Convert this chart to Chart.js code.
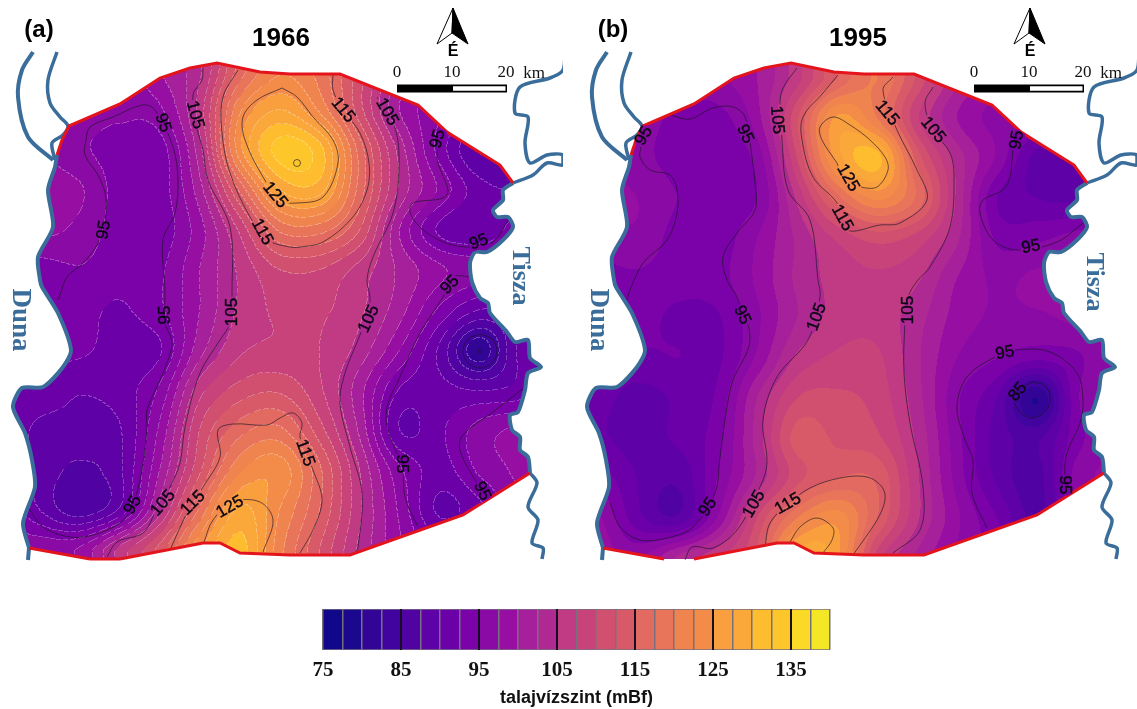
<!DOCTYPE html>
<html lang="en">
<head>
    <meta charset="UTF-8">
    <title>talajvízszint 1966 / 1995</title>
    <script src="https://cdn.jsdelivr.net/npm/chart.js"></script>
    <style>
        body { margin: 0; background: #fff; overflow: hidden; }
        canvas { position: absolute; }
    </style>
</head>
<body>
    <canvas id="mapA" width="563" height="570" style="left:0;top:0"></canvas>
    <canvas id="mapB" width="563" height="570" style="left:574px;top:0"></canvas>
    <canvas id="bar" width="560" height="119" style="left:300px;top:590px"></canvas>

    <script>
        // colour bar
        const bandEdges = [75,77.5,80,82.5,85,87.5,90,92.5,95,97.5,100,102.5,105,107.5,110,112.5,115,117.5,120,122.5,125,127.5,130,132.5,135,137.5,140];
        const bandColors = ['#10078a','#1c088e','#330597','#42049e','#5002a2','#5e01a6','#6c00a8','#7a02a8','#8a0aa6','#960fa2','#a5209a','#ae2a92','#c03b84','#c84379','#d1506f','#d85a69','#e36a60','#e8755a','#f0844e','#f48c49','#f99f3d','#fba83a','#fdbd2e','#fdc72b','#fbd927','#f4e826'];
        const barTitle = 'talajvízszint (mBf)';

        // map units, 110 units = 20 km. Both panels share the same outline
        const redTop = [[57,155],[62,140],[69,126],[120,104],[160,78],[190,68],[217,63],[260,72],[290,74],[340,74],[418,105],[447,132],[500,165],[513,183]];
        const tiszaBank = [[513,183],[503,190],[503,200],[493,210],[497,217],[508,217],[513,227],[503,240],[487,252],[475,252],[470,263],[472,282],[480,298],[488,303],[490,313],[507,332],[515,342],[528,340],[530,358],[541,367],[528,373],[525,390],[518,412],[510,415],[512,430],[520,437],[520,450],[528,457],[530,473]];
        const redBottomEast = [[530,473],[463,515],[350,555],[290,555],[240,553],[220,543],[203,543],[120,559]];
        const redBottomMid = [[120,559],[90,559]];
        const redBottomWest = [[90,559],[29,548]];
        const dunaBank = [[29,548],[23,523],[35,487],[32,460],[25,433],[13,407],[22,388],[43,387],[63,367],[71,350],[58,313],[42,287],[40,280],[38,257],[53,227],[48,190],[55,167],[57,155]];
        const dunaEnd = [[29,548],[28,560]];
        const dunaArm1 = [[33,52],[22,70],[18,97],[28,137],[53,160]];
        const dunaArm2 = [[57,52],[48,80],[50,103],[60,117],[68,126],[63,135],[52,143],[55,160]];
        const tiszaUpper = [[513,183],[533,175],[547,163],[563,165],[563,155],[547,155],[530,163],[525,143],[528,117],[515,113],[520,87],[550,78],[563,70],[565,52]];
        const tiszaLower = [[530,473],[537,483],[528,507],[538,520],[532,543],[543,548],[542,559]];

        const arrowBlack = [[453,8],[468,44],[452,33]];
        const arrowWhite = [[453,8],[437,44],[452,33]];

        // water level, rows top to bottom
        const gridXA = [0,40,80,120,160,200,240,280,320,360,400,440,480,520,560];
        const gridYA = [70,110,150,190,230,270,310,350,390,430,470,510,550];
        const levelsA = [
            [96,96,96,96,100,104.5,116,122,119,111,102,96,94,93,93],
            [96,96,96,95.5,97,106,122,127.5,122,111,100,95.5,92,92,92],
            [97,97.5,95.5,94,93.8,104,124,133.5,131,116.5,104,94,87.5,90,91],
            [97,98.5,97.8,94,93.8,101.5,115.5,127.5,128.5,116.5,104.5,97,91,90,91],
            [96,98,96.8,93.8,93.5,99,108,118,118.5,112.5,100,92,90.5,94,95],
            [94,94,94.8,93.5,94.5,100,105.5,110,110,106.5,102,98,96,95,95],
            [94,94.5,93.5,92.2,94.5,100,105.5,108,108,105.5,101,94.5,90,91,93],
            [93,93.5,93,91.5,92.2,101.5,107,108,107.5,104,97.5,89.5,81,90.5,92],
            [92,91.5,90.2,91.2,95.5,106.5,111,112,108,101,92.3,91,89.8,91,95],
            [92,89.5,89.5,89.8,98,110,116.5,118,111,102,90,92,96,98,98],
            [93,89.2,87,89.5,100,112,122,124,115.5,105,95.5,91.5,95.5,98,98],
            [95,90,86,90.5,104,118,128,122.5,115,105.5,97,89.5,92,97,98],
            [97,97,98,106,113.5,124.5,131,121,112.5,104.5,98,94,95,97,98]
        ];
        const gridXB = [23,63,103,143,183,223,263,303,343,383,423,463,503,543];
        const gridYB = [78,118,158,198,238,278,318,358,398,438,478,518,558];
        const levelsB = [
            [96,96,96,97,100,106.5,115,120,112,103,98,94,92,92],
            [96,96,94.5,94,99,112,125.5,120,108,100,96.5,95,92,92],
            [98,96,94,93.5,96,110,126,131,114,104,97,89,88,90],
            [98,97.5,95,93.5,95,105.5,116.5,123,117,104.5,92.5,90,89.5,92],
            [96,97,94,93.5,97.5,103,108,111,109,103,94.5,94.5,96,97],
            [94,94.5,93.5,94,98,103,106,107,105.5,100,97,98,98,98],
            [93.5,93.5,92,92.2,97,102.5,106,106.5,103.5,99,97,97,98,98],
            [92.5,92,92.5,92,98,105.5,108,108,103,97.5,95,93,94.5,98],
            [91,89,90.5,93,102.5,110,110.5,109,103.5,95.5,90,80,94.5,98],
            [90.5,89,90.5,94,103.5,113.5,112,110.5,104.5,96,89,87,94,98],
            [94,90,88,95,103,111.5,115,114.5,105.5,96.5,89.5,86.5,96,98],
            [98,91,88,97.5,110,120,124,115,105.5,98,92.5,87,94,97],
            [99,97,103,107,113,129,126,109,102,97,94,90,93,97]
        ];

        // contour lines, panel a
        const a95West = [[58,300],[60,295],[67,277],[83,263],[98,243],[106,213],[105,193],[98,175],[85,155],[86,140],[90,127],[113,117],[143,105],[155,110],[173,147],[178,180],[175,213],[163,240],[165,290],[165,323],[172,343],[163,373],[147,410],[147,427],[142,470],[132,507],[120,523],[93,535],[70,537],[43,527],[28,507]];
        const a105West = [[203,68],[202,80],[193,95],[197,128],[203,150],[208,180],[230,227],[232,290],[230,323],[220,340],[200,373],[185,427],[180,463],[170,487],[155,513],[143,533],[117,542],[107,557]];
        const a115North = [[238,70],[223,97],[222,133],[230,173],[250,217],[268,240],[290,247],[300,247],[323,242],[352,218],[367,190],[369,163],[360,133],[343,110],[333,90],[333,75]];
        const a125North = [[282,88],[257,100],[243,117],[245,140],[263,177],[280,200],[297,203],[323,197],[338,163],[333,140],[313,117],[297,97],[282,88]];
        const a105East = [[377,97],[395,128],[399,167],[393,213],[373,257],[367,280],[370,297],[368,313],[360,335],[345,373],[340,403],[350,447],[362,493],[358,547],[355,553]];
        const a95NorthEast = [[445,130],[437,157],[448,190],[443,198],[413,203],[410,212],[420,227],[443,242],[468,247],[493,242],[510,217]];
        const a95Middle = [[472,277],[453,277],[443,297],[420,333],[400,377],[387,407],[388,430],[402,467],[405,497],[418,527]];
        const a95SouthEast = [[525,387],[493,412],[463,435],[460,450],[475,480],[488,500]];
        const a115South = [[170,550],[187,513],[203,487],[220,457],[218,430],[233,424],[267,425],[280,418],[293,413],[302,423],[300,437],[313,470],[322,500],[313,530],[300,553]];
        const a125South = [[204,542],[213,520],[233,502],[260,502],[273,520],[263,552]];
        const a85Ring = [[480,334],[492,339],[497,351],[492,363],[480,368],[468,363],[463,351],[468,339],[480,334]];
        const a135Spot = [[297,163]];
        const a75Spot = [[480,351]];
        const labelsA = [
            ['95',104,230,-80],['95',163,123,70],['105',195,115,75],['125',275,195,50],['115',262,232,60],
            ['115',343,110,50],['105',387,112,60],['95',438,139,-75],['95',479,242,-20],['95',450,285,-45],
            ['105',369,319,-65],['95',402,464,90],['95',482,491,65],['115',305,453,70],
            ['95',165,315,-90],['105',232,312,-90],['95',133,505,-60],['105',163,503,-50],['115',193,503,-45],['125',230,507,-30]
        ];

        // contour lines, panel b
        const b95West = [[67,147],[66,157],[76,170],[96,175],[103,190],[103,213],[93,240],[69,263],[56,290],[53,300]];
        const b95Long = [[96,115],[116,119],[139,108],[159,107],[171,117],[178,157],[181,183],[181,210],[163,233],[149,257],[153,280],[163,297],[176,340],[159,380],[153,407],[146,457],[141,493],[119,527],[93,538],[66,540],[46,527],[36,503]];
        const b105West = [[223,68],[209,88],[206,103],[208,140],[214,190],[236,220],[244,280],[246,297],[234,340],[203,377],[189,420],[193,463],[186,487],[163,530],[139,548],[118,547],[111,560]];
        const b115North = [[264,75],[249,93],[229,117],[228,140],[239,177],[263,203],[273,230],[306,225],[326,223],[353,200],[343,170],[323,130],[309,90],[319,77]];
        const b125North = [[263,163],[248,140],[246,127],[259,117],[276,125],[296,140],[311,157],[314,170],[303,187],[286,187],[272,183],[263,163]];
        const b105East = [[359,87],[351,103],[359,130],[376,153],[380,177],[376,227],[356,267],[344,280],[334,297],[331,323],[330,373],[336,423],[349,487],[346,530],[319,553]];
        const b95NorthEast = [[443,130],[439,150],[436,177],[429,190],[409,200],[406,213],[419,240],[443,250],[483,242],[509,223]];
        const b95Loop = [[413,528],[398,493],[399,460],[391,440],[383,407],[393,377],[421,357],[443,350],[476,352],[503,373],[509,400],[506,423],[493,453],[491,477],[496,493]];
        const b85Ring = [[458,382],[470,385],[476,397],[472,411],[458,418],[446,412],[440,400],[444,390],[458,382]];
        const b115South = [[191,547],[196,523],[214,504],[236,488],[266,478],[293,477],[308,487],[311,500],[303,520],[279,555]];
        const b125South = [[216,542],[226,527],[243,518],[259,528],[258,540],[249,553]];
        const labelsB = [
            ['95',70,136,-60],['95',171,134,65],['105',203,120,85],['115',268,218,60],['125',274,178,60],
            ['115',313,113,50],['105',359,130,50],['95',443,140,-80],['95',457,247,-10],
            ['95',168,315,65],['105',243,317,-70],['95',134,507,-55],['105',180,504,-60],['115',214,504,-30],
            ['105',334,310,-90],['95',431,353,-10],['85',444,392,-50],['95',491,485,90]
        ];

        const blue = '#3a6d9a';
        const red = '#e4141c';
        const lineInk = 'rgba(25,20,35,0.8)';
        const labelFont = '17px "Liberation Sans"';

        function pts(arr) {
            return arr.map(p => ({ x: p[0], y: p[1] }));
        }
        function lineSet(arr, color, width, tension) {
            return { data: pts(arr), showLine: true, borderColor: color, borderWidth: width, pointRadius: 0, tension: tension, fill: false };
        }
        function spot(arr, radius) {
            return { data: pts(arr), showLine: false, pointRadius: radius, pointBackgroundColor: 'transparent', pointBorderColor: lineInk, pointBorderWidth: 0.8 };
        }
        function arrowSet(arr, fillColor, dx) {
            const moved = arr.map(p => [p[0] + dx, p[1]]);
            moved.push(moved[0]);
            return { data: pts(moved), showLine: true, borderColor: '#000', borderWidth: 1, pointRadius: 0, tension: 0, fill: 'shape', backgroundColor: fillColor };
        }

        function catmull(a, b, c, d, t) {
            return 0.5 * (2*b + (c-a)*t + (2*a - 5*b + 4*c - d)*t*t + (3*b - a - 3*c + d)*t*t*t);
        }

        function sampler(gridX, gridY, levels) {
            const stepX = gridX[1] - gridX[0], stepY = gridY[1] - gridY[0];
            const nx = gridX.length, ny = gridY.length;
            const cl = (v, n) => Math.max(0, Math.min(n - 1, v));
            return function (mx, my) {
                const fx = Math.max(0, Math.min(nx - 1.001, (mx - gridX[0]) / stepX));
                const fy = Math.max(0, Math.min(ny - 1.001, (my - gridY[0]) / stepY));
                const ix = Math.floor(fx), iy = Math.floor(fy);
                const row = [];
                for (let j = -1; j <= 2; j++) {
                    const r = levels[cl(iy + j, ny)];
                    row.push(catmull(r[cl(ix-1,nx)], r[ix], r[cl(ix+1,nx)], r[cl(ix+2,nx)], fx - ix));
                }
                return catmull(row[0], row[1], row[2], row[3], fy - iy);
            };
        }

        function hexRgb(h) {
            return [parseInt(h.slice(1,3),16), parseInt(h.slice(3,5),16), parseInt(h.slice(5,7),16)];
        }
        const bandRgb = bandColors.map(hexRgb);

        function outlinePath(chart, outline) {
            const { x, y } = chart.scales;
            const ctx = chart.ctx;
            ctx.beginPath();
            outline.forEach((p, n) => {
                const px = x.getPixelForValue(p[0]), py = y.getPixelForValue(p[1]);
                if (n === 0) ctx.moveTo(px, py); else ctx.lineTo(px, py);
            });
            ctx.closePath();
        }

        // filled contour bands, clipped to the outline
        const fieldPlugin = {
            id: 'field',
            beforeDatasetsDraw(chart, args, opts) {
                const { x, y } = chart.scales;
                const area = chart.chartArea;
                const w = Math.round(area.right - area.left), h = Math.round(area.bottom - area.top);
                const off = document.createElement('canvas');
                off.width = w; off.height = h;
                const octx = off.getContext('2d');
                const img = octx.createImageData(w, h);
                const val = sampler(opts.gridX, opts.gridY, opts.levels);
                const band = new Int16Array(w * h);
                for (let j = 0; j < h; j++) {
                    const my = y.getValueForPixel(area.top + j + 0.5);
                    for (let i = 0; i < w; i++) {
                        const v = val(x.getValueForPixel(area.left + i + 0.5), my);
                        band[j*w+i] = Math.max(0, Math.min(25, Math.floor((v - 75) / 2.5)));
                    }
                }
                for (let j = 0; j < h; j++) {
                    for (let i = 0; i < w; i++) {
                        const b = band[j*w+i];
                        const c = bandRgb[b];
                        const edge = opts.paleEdges && i < w-1 && j < h-1 && (band[j*w+i+1] !== b || band[(j+1)*w+i] !== b) && (i + j) % 7 < 5;
                        const k = (j*w+i)*4;
                        const mix = edge ? 0.25 : 0;
                        img.data[k] = c[0] + (255-c[0])*mix;
                        img.data[k+1] = c[1] + (255-c[1])*mix;
                        img.data[k+2] = c[2] + (255-c[2])*mix;
                        img.data[k+3] = 255;
                    }
                }
                octx.putImageData(img, 0, 0);
                chart.$fieldImage = off;
                const ctx = chart.ctx;
                ctx.save();
                outlinePath(chart, opts.outline);
                ctx.clip();
                ctx.drawImage(off, area.left, area.top);
                ctx.restore();
            }
        };

        // all text on the map: contour labels, titles, rivers, scale bar
        const textPlugin = {
            id: 'mapText',
            afterDatasetsDraw(chart, args, opts) {
                const { x, y } = chart.scales;
                const ctx = chart.ctx;
                // contour lines break under their labels
                opts.labels.forEach(t => {
                    ctx.save();
                    outlinePath(chart, chart.options.plugins.field.outline);
                    ctx.clip();
                    ctx.translate(x.getPixelForValue(t[1]), y.getPixelForValue(t[2]));
                    ctx.rotate(t[3] * Math.PI / 180);
                    ctx.font = labelFont;
                    const tw = ctx.measureText(t[0]).width + 2;
                    ctx.beginPath();
                    ctx.rect(-tw / 2, -7, tw, 14);
                    ctx.clip();
                    ctx.rotate(-t[3] * Math.PI / 180);
                    ctx.translate(-x.getPixelForValue(t[1]), -y.getPixelForValue(t[2]));
                    ctx.drawImage(chart.$fieldImage, chart.chartArea.left, chart.chartArea.top);
                    ctx.restore();
                    ctx.save();
                    ctx.translate(x.getPixelForValue(t[1]), y.getPixelForValue(t[2]));
                    ctx.rotate(t[3] * Math.PI / 180);
                    ctx.font = labelFont;
                    ctx.fillStyle = '#0c0714';
                    ctx.strokeStyle = '#0c0714';
                    ctx.lineWidth = 0.4;
                    ctx.textAlign = 'center';
                    ctx.textBaseline = 'middle';
                    ctx.fillText(t[0], 0, 0);
                    ctx.strokeText(t[0], 0, 0);
                    ctx.restore();
                });
                opts.items.forEach(t => {
                    ctx.save();
                    ctx.translate(x.getPixelForValue(t[1]), y.getPixelForValue(t[2]));
                    ctx.rotate(t[3] * Math.PI / 180);
                    ctx.font = t[4];
                    ctx.fillStyle = t[5];
                    ctx.textAlign = 'center';
                    ctx.textBaseline = 'middle';
                    ctx.fillText(t[0], 0, 0);
                    ctx.restore();
                });
            }
        };

        function makeMap(id, cfg) {
            const sets = cfg.contours.map(c => lineSet(c, lineInk, 0.8, 0.35));
            sets.push(...cfg.spots.map(s => spot(s[0], s[1])));
            sets.push(lineSet(dunaArm1, blue, 4, 0.3), lineSet(dunaArm2, blue, 3.5, 0.3), lineSet(dunaBank, blue, 4, 0.25), lineSet(dunaEnd, blue, 4, 0));
            sets.push(lineSet(tiszaUpper, blue, 3.5, 0.3), lineSet(tiszaBank, blue, 4, 0.25), lineSet(tiszaLower, blue, 3.5, 0.3));
            cfg.redLines.forEach(r => sets.push(lineSet(r, red, 3, 0)));
            const d = cfg.dx;
            sets.push(lineSet([[397+d,88.5],[507+d,88.5]], '#000', 8, 0));
            sets.push(lineSet([[453+d,88.5],[505.5+d,88.5]], '#fff', 4.5, 0));
            sets.push(arrowSet(arrowWhite, '#fff', d), arrowSet(arrowBlack, '#000', d));
            // chart.js paints dataset 0 last, so flip to keep rivers above the contours
            sets.reverse();

            const serif = '17px "Liberation Serif"';
            const head = 'bold 26px "Liberation Sans"';
            const riverFont = 'bold 27px "Liberation Serif"';
            const items = [
                [cfg.panel, cfg.panelX, 30, 0, 'bold 24px "Liberation Sans"', '#000'],
                [cfg.title, cfg.titleX, 39, 0, head, '#000'],
                ['É', 453+d, 52, 0, 'bold 16px "Liberation Sans"', '#000'],
                ['0', 397+d, 73, 0, serif, '#111'],
                ['10', 452+d, 73, 0, serif, '#111'],
                ['20', 506+d, 73, 0, serif, '#111'],
                ['km', 534+d, 74, 0, serif, '#111'],
                ['Duna', cfg.dunaX, 320, 90, riverFont, blue],
                ['Tisza', 520, cfg.tiszaY, 90, 'bold 26px "Liberation Serif"', blue]
            ];

            new Chart(document.getElementById(id), {
                type: 'scatter',
                data: { datasets: sets },
                plugins: [fieldPlugin, textPlugin],
                options: {
                    responsive: false,
                    animation: false,
                    layout: { padding: 0, autoPadding: false },
                    scales: {
                        x: { type: 'linear', display: false, min: 0, max: 563 },
                        y: { type: 'linear', display: false, min: 0, max: 570, reverse: true }
                    },
                    plugins: {
                        legend: { display: false },
                        tooltip: { enabled: false },
                        field: { gridX: cfg.gridX, gridY: cfg.gridY, levels: cfg.levels, paleEdges: cfg.paleEdges, outline: redTop.concat(tiszaBank, redBottomEast, redBottomMid, redBottomWest, dunaBank) },
                        mapText: { items: items, labels: cfg.labels }
                    }
                }
            });
        }

        makeMap('mapA', {
            panel: '(a)', panelX: 39, title: '1966', titleX: 281, dunaX: 20, tiszaY: 276, dx: 0, paleEdges: true,
            gridX: gridXA, gridY: gridYA, levels: levelsA, labels: labelsA,
            contours: [a95West, a105West, a115North, a125North, a105East, a95NorthEast, a95Middle, a95SouthEast, a115South, a125South, a85Ring],
            spots: [[a135Spot, 3.5], [a75Spot, 2]],
            redLines: [redTop, redBottomEast, redBottomMid, redBottomWest]
        });
        makeMap('mapB', {
            panel: '(b)', panelX: 39, title: '1995', titleX: 284, dunaX: 24, tiszaY: 282, dx: 3, paleEdges: false,
            gridX: gridXB, gridY: gridYB, levels: levelsB, labels: labelsB,
            contours: [b95West, b95Long, b105West, b115North, b125North, b105East, b95NorthEast, b95Loop, b85Ring, b115South, b125South],
            spots: [],
            redLines: [redTop, redBottomEast, redBottomWest]
        });

        // colour bar as floating bars on a real value axis
        new Chart(document.getElementById('bar'), {
            type: 'bar',
            data: {
                labels: [''],
                datasets: bandColors.map((c, i) => ({
                    data: [[bandEdges[i], bandEdges[i + 1]]],
                    backgroundColor: c,
                    borderColor: '#77707f',
                    borderWidth: { top: 1, bottom: 1, left: 0, right: 0 },
                    borderSkipped: false,
                    grouped: false,
                    barPercentage: 1,
                    categoryPercentage: 1
                }))
            },
            options: {
                indexAxis: 'y',
                responsive: false,
                animation: false,
                layout: { padding: { left: 23, right: 30, top: 19, bottom: 0 } },
                scales: {
                    y: { display: false },
                    x: {
                        type: 'linear', min: 75, max: 140,
                        afterFit(s) { s.height = 59; },
                        border: { display: false },
                        grid: {
                            z: 1, drawTicks: false,
                            color: c => ((c.tick.value - 75) % 10 === 0 && c.tick.value > 75 ? '#151020' : '#77707f'),
                            lineWidth: c => ((c.tick.value - 75) % 10 === 0 && c.tick.value > 75 ? 2 : 1.5)
                        },
                        ticks: {
                            stepSize: 2.5, autoSkip: false, maxRotation: 0, padding: 8, color: '#111',
                            font: { family: '"Liberation Serif"', size: 21, weight: 'bold' },
                            callback: v => ((v - 75) % 10 === 0 ? String(v) : '')
                        },
                        title: { display: true, text: barTitle, color: '#111', padding: 0, font: { family: '"Liberation Sans"', size: 18, weight: 'bold' } }
                    }
                },
                plugins: { legend: { display: false }, tooltip: { enabled: false } }
            }
        });
    </script>
</body>
</html>
